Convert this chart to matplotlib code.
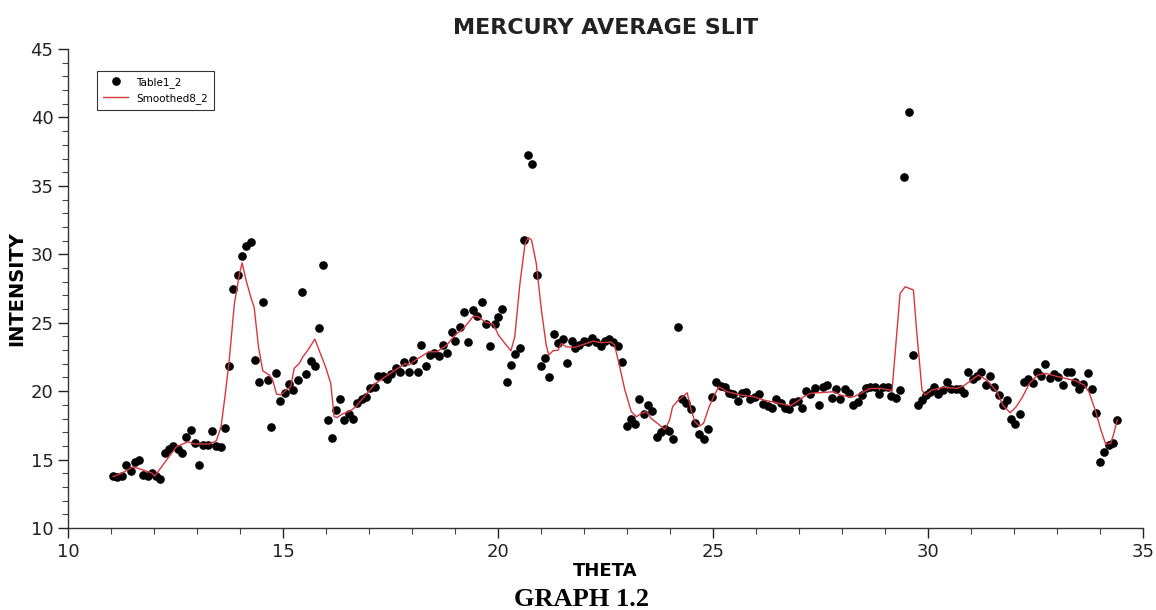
import numpy as np
import matplotlib
matplotlib.use("Agg")
import matplotlib.pyplot as plt
from matplotlib.ticker import MultipleLocator

# measured points (Table1_2)
theta = [
    11.05, 11.15, 11.26, 11.35, 11.46, 11.56, 11.65, 11.75, 11.86, 11.95,
    12.05, 12.15, 12.25, 12.35, 12.44, 12.55, 12.65, 12.75, 12.85, 12.95,
    13.04, 13.15, 13.25, 13.35, 13.45, 13.55, 13.65, 13.74, 13.84, 13.95,
    14.05, 14.14, 14.26, 14.34, 14.44, 14.53, 14.65, 14.73, 14.84, 14.94,
    15.04, 15.14, 15.23, 15.34, 15.44, 15.53, 15.64, 15.74, 15.83, 15.92,
    16.04, 16.13, 16.23, 16.33, 16.43, 16.53, 16.62, 16.73, 16.83, 16.93,
    17.03, 17.13, 17.22, 17.32, 17.43, 17.52, 17.62, 17.72, 17.82, 17.92,
    18.02, 18.13, 18.22, 18.32, 18.42, 18.52, 18.62, 18.71, 18.82, 18.92,
    19.01, 19.11, 19.21, 19.31, 19.41, 19.52, 19.62, 19.71, 19.81, 19.92,
    20.01, 20.10, 20.22, 20.31, 20.40, 20.50, 20.61, 20.70, 20.80, 20.91,
    21.00, 21.10, 21.19, 21.31, 21.40, 21.50, 21.61, 21.71, 21.80, 21.89,
    22.00, 22.10, 22.19, 22.29, 22.39, 22.49, 22.58, 22.68, 22.79, 22.88,
    22.99, 23.09, 23.19, 23.28, 23.39, 23.49, 23.58, 23.69, 23.78, 23.88,
    23.98, 24.08, 24.18, 24.28, 24.38, 24.48, 24.58, 24.68, 24.78, 24.88,
    24.97, 25.08, 25.18, 25.27, 25.37, 25.47, 25.57, 25.67, 25.77, 25.87,
    25.98, 26.07, 26.17, 26.27, 26.37, 26.47, 26.57, 26.67, 26.77, 26.87,
    26.97, 27.07, 27.16, 27.26, 27.36, 27.46, 27.56, 27.66, 27.76, 27.86,
    27.96, 28.06, 28.16, 28.26, 28.36, 28.46, 28.56, 28.66, 28.76, 28.85,
    28.96, 29.06, 29.15, 29.25, 29.35, 29.45, 29.55, 29.66, 29.76, 29.85,
    29.95, 30.05, 30.15, 30.24, 30.35, 30.45, 30.54, 30.64, 30.74, 30.84,
    30.94, 31.04, 31.14, 31.24, 31.34, 31.44, 31.54, 31.64, 31.74, 31.84,
    31.93, 32.03, 32.14, 32.23, 32.33, 32.43, 32.53, 32.63, 32.72, 32.83,
    32.93, 33.03, 33.13, 33.22, 33.32, 33.41, 33.51, 33.61, 33.71, 33.81,
    33.91, 34.01, 34.10, 34.21, 34.31, 34.40,
]
intensity = [
    13.80, 13.70, 13.80, 14.60, 14.19, 14.80, 14.97, 13.90, 13.80, 14.00,
    13.80, 13.60, 15.50, 15.80, 16.00, 15.80, 15.45, 16.67, 17.16, 16.20,
    14.60, 16.10, 16.10, 17.10, 15.99, 15.90, 17.30, 21.86, 27.46, 28.48,
    29.87, 30.60, 30.90, 22.27, 20.64, 26.50, 20.80, 17.40, 21.30, 19.28,
    19.90, 20.50, 20.10, 20.80, 27.26, 21.23, 22.20, 21.83, 24.60, 29.20,
    17.87, 16.60, 18.64, 19.42, 17.87, 18.35, 17.96, 19.15, 19.42, 19.54,
    20.25, 20.30, 21.10, 21.08, 20.90, 21.25, 21.70, 21.40, 22.10, 21.40,
    22.27, 21.40, 23.40, 21.86, 22.66, 22.80, 22.60, 23.37, 22.80, 24.30,
    23.70, 24.70, 25.76, 23.56, 25.90, 25.50, 26.50, 24.90, 23.30, 24.88,
    25.44, 26.00, 20.70, 21.93, 22.73, 23.17, 31.04, 37.25, 36.60, 28.48,
    21.86, 22.40, 21.03, 24.20, 23.50, 23.80, 22.07, 23.66, 23.17, 23.40,
    23.70, 23.56, 23.90, 23.56, 23.30, 23.66, 23.80, 23.60, 23.30, 22.15,
    17.47, 18.00, 17.60, 19.42, 18.30, 18.96, 18.57, 16.67, 17.00, 17.25,
    17.10, 16.50, 24.70, 19.42, 19.15, 18.70, 17.70, 16.90, 16.48, 17.20,
    19.54, 20.64, 20.40, 20.30, 19.86, 19.80, 19.28, 19.90, 19.96, 19.40,
    19.57, 19.80, 19.08, 18.90, 18.80, 19.42, 19.15, 18.80, 18.70, 19.20,
    19.30, 18.77, 20.00, 19.80, 20.20, 18.96, 20.30, 20.47, 19.47, 20.13,
    19.40, 20.13, 19.90, 18.96, 19.20, 19.70, 20.20, 20.28, 20.28, 19.80,
    20.28, 20.30, 19.67, 19.47, 20.08, 35.66, 40.40, 22.66, 18.96, 19.35,
    19.69, 19.96, 20.28, 19.80, 20.06, 20.64, 20.15, 20.15, 20.15, 19.86,
    21.40, 20.86, 21.10, 21.42, 20.45, 21.10, 20.28, 19.69, 18.96, 19.35,
    18.00, 17.60, 18.33, 20.69, 20.88, 20.57, 21.37, 21.10, 21.95, 20.98,
    21.25, 21.00, 20.45, 21.37, 21.37, 20.69, 20.18, 20.50, 21.30, 20.13,
    18.38, 14.80, 15.57, 16.06, 16.18, 17.90,
]

# smoothed curve (Smoothed8_2) at its vertices
smooth_theta = [
    11.05, 11.25, 11.51, 11.74, 11.94, 12.02, 12.52, 12.79, 12.94, 13.29,
    13.45, 13.56, 13.66, 13.75, 13.87, 13.99, 14.05, 14.14, 14.26, 14.33,
    14.43, 14.53, 14.68, 14.76, 14.85, 14.95, 15.07, 15.18, 15.26, 15.38,
    15.46, 15.58, 15.74, 15.84, 15.99, 16.11, 16.19, 16.26, 16.38, 16.57,
    16.69, 16.92, 17.15, 17.38, 17.61, 17.85, 17.92, 18.08, 18.39, 18.58,
    18.81, 19.00, 19.20, 19.43, 19.54, 19.70, 19.89, 20.01, 20.16, 20.30,
    20.39, 20.51, 20.63, 20.70, 20.78, 20.89, 21.01, 21.12, 21.18, 21.28,
    21.40, 21.47, 21.59, 21.78, 22.01, 22.21, 22.40, 22.63, 22.71, 22.83,
    22.95, 23.10, 23.22, 23.33, 23.45, 23.56, 23.76, 23.88, 23.99, 24.06,
    24.18, 24.40, 24.49, 24.58, 24.68, 24.78, 24.91, 25.03, 25.14, 25.33,
    25.64, 25.95, 26.18, 26.49, 26.80, 26.95, 27.11, 27.26, 27.57, 27.81,
    27.96, 28.16, 28.27, 28.43, 28.66, 28.89, 29.12, 29.16, 29.26, 29.35,
    29.47, 29.66, 29.74, 29.86, 29.93, 30.09, 30.36, 30.67, 30.82, 31.17,
    31.36, 31.59, 31.74, 31.91, 32.05, 32.20, 32.36, 32.55, 32.74, 32.97,
    33.20, 33.43, 33.63, 33.74, 33.90, 34.02, 34.13, 34.25, 34.32, 34.40,
]
smooth_intensity = [
    13.75, 14.00, 14.48, 14.24, 14.04, 13.80, 15.94, 16.30, 16.14, 16.14,
    16.38, 17.40, 19.84, 22.27, 26.41, 28.60, 29.38, 28.12, 26.78, 26.12,
    23.24, 21.49, 21.18, 20.81, 19.79, 19.72, 20.08, 20.32, 21.67, 22.03,
    22.50, 23.00, 23.80, 23.00, 21.78, 20.57, 18.13, 18.08, 18.33, 18.57,
    18.86, 19.72, 20.57, 21.05, 21.54, 22.03, 21.90, 22.27, 22.88, 22.88,
    23.37, 24.10, 24.59, 25.49, 25.44, 25.05, 24.90, 24.10, 23.49, 22.95,
    23.98, 27.87, 30.79, 31.23, 31.04, 29.33, 25.92, 23.37, 22.64, 22.95,
    23.00, 23.49, 23.24, 23.20, 23.44, 23.66, 23.54, 23.60, 23.37, 21.78,
    20.08, 18.50, 18.13, 18.38, 18.50, 18.01, 17.52, 17.20, 17.89, 18.86,
    19.30, 19.88, 18.62, 17.77, 17.45, 17.65, 18.86, 19.72, 20.32, 19.96,
    19.72, 19.59, 19.35, 19.15, 18.93, 19.23, 19.59, 19.84, 19.91, 19.96,
    19.72, 19.59, 19.59, 19.84, 20.20, 20.20, 20.08, 19.96, 23.73, 27.14,
    27.63, 27.39, 24.22, 20.08, 19.72, 20.08, 20.28, 20.20, 20.37, 21.18,
    20.81, 20.02, 18.98, 18.42, 18.86, 19.60, 20.57, 21.18, 21.30, 21.10,
    20.93, 20.76, 20.45, 19.96, 18.50, 17.16, 16.14, 16.18, 16.91, 17.89,
]

fig = plt.figure(figsize=(11.56, 6.10), dpi=100)
ax = fig.add_axes([0.0588, 0.1344, 0.9300, 0.7852])

ax.plot(theta, intensity, "o", color="black", markersize=5.2, label="Table1_2")
ax.plot(smooth_theta, smooth_intensity, "-", color="#d8363c", linewidth=1.0,
        label="Smoothed8_2")

ax.set_xlim(10, 35)
ax.set_ylim(10, 45)
ax.xaxis.set_major_locator(MultipleLocator(5))
ax.xaxis.set_minor_locator(MultipleLocator(1))
ax.yaxis.set_major_locator(MultipleLocator(5))
ax.yaxis.set_minor_locator(MultipleLocator(1))
ax.tick_params(which="major", direction="out", length=7, width=1,
               labelsize=13, colors="#222222")
ax.tick_params(which="minor", direction="out", length=4, width=0.8,
               colors="#444444")
ax.spines["top"].set_visible(False)
ax.spines["right"].set_visible(False)
for s in ("left", "bottom"):
    ax.spines[s].set_linewidth(1.0)
    ax.spines[s].set_color("#333333")

ax.set_title("MERCURY AVERAGE SLIT", fontsize=16, fontweight="bold",
             color="#222222", pad=11)
ax.set_xlabel("THETA", fontsize=13, fontweight="bold", labelpad=1)
ax.set_ylabel("INTENSITY", fontsize=14, fontweight="bold", labelpad=3)

leg = ax.legend(loc="upper left", bbox_to_anchor=(0.022, 0.966), fontsize=7.5,
                frameon=True, fancybox=False, borderpad=0.6, handlelength=2.4,
                numpoints=1)
leg.get_frame().set_edgecolor("black")
leg.get_frame().set_linewidth(0.8)

fig.text(0.503, 0.006, "GRAPH 1.2", ha="center", va="baseline",
         fontsize=19, fontweight="bold", family="Liberation Serif")

fig.savefig("out.png", dpi=100)
